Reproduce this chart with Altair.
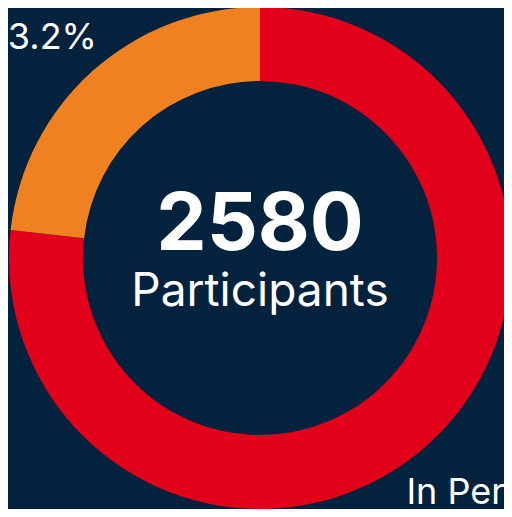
import altair as alt
import pandas as pd

categories = ["In Person", "Virtual"]
counts = [1981, 599]
colors = ["#e2001a", "#f08121"]

total = sum(counts)
labels = [f"{c}\n{n / total * 100:.1f}%" for c, n in zip(categories, counts)]
df = pd.DataFrame({"category": categories, "count": counts, "label": labels})

BG = "#02223e"

base = alt.Chart(df).encode(
    theta=alt.Theta("count:Q", stack=True),
    color=alt.Color("category:N", scale=alt.Scale(domain=categories, range=colors), legend=None),
)

ring = base.mark_arc(innerRadius=177, outerRadius=251)

outer_labels = base.mark_text(
    radius=334, fontSize=36, font="Inter", color="white", align="center",
    baseline="middle", lineBreak="\n", lineHeight=43, dy=-14, dx=4
).encode(text="label:N", color=alt.value("white"))

center_num = alt.Chart(df).transform_aggregate(total="sum(count)").mark_text(
    fontSize=80, fontWeight="bold", font="Inter", color="white", baseline="alphabetic", dy=-8
).encode(text="total:Q")

center_lbl = alt.Chart(df).transform_aggregate(total="sum(count)").mark_text(
    fontSize=46, font="Inter", color="white", baseline="alphabetic", dy=48
).encode(text=alt.value("Participants"))

chart = alt.layer(ring, outer_labels, center_num, center_lbl).properties(
    width=488, height=500,
    autosize=alt.AutoSizeParams(type="none"),
    padding={"left": 8, "top": 0, "right": 0, "bottom": 1},
    background=BG,
).configure_view(stroke=None)

chart.save("out.html", embed_options={"renderer": "svg", "actions": False})
